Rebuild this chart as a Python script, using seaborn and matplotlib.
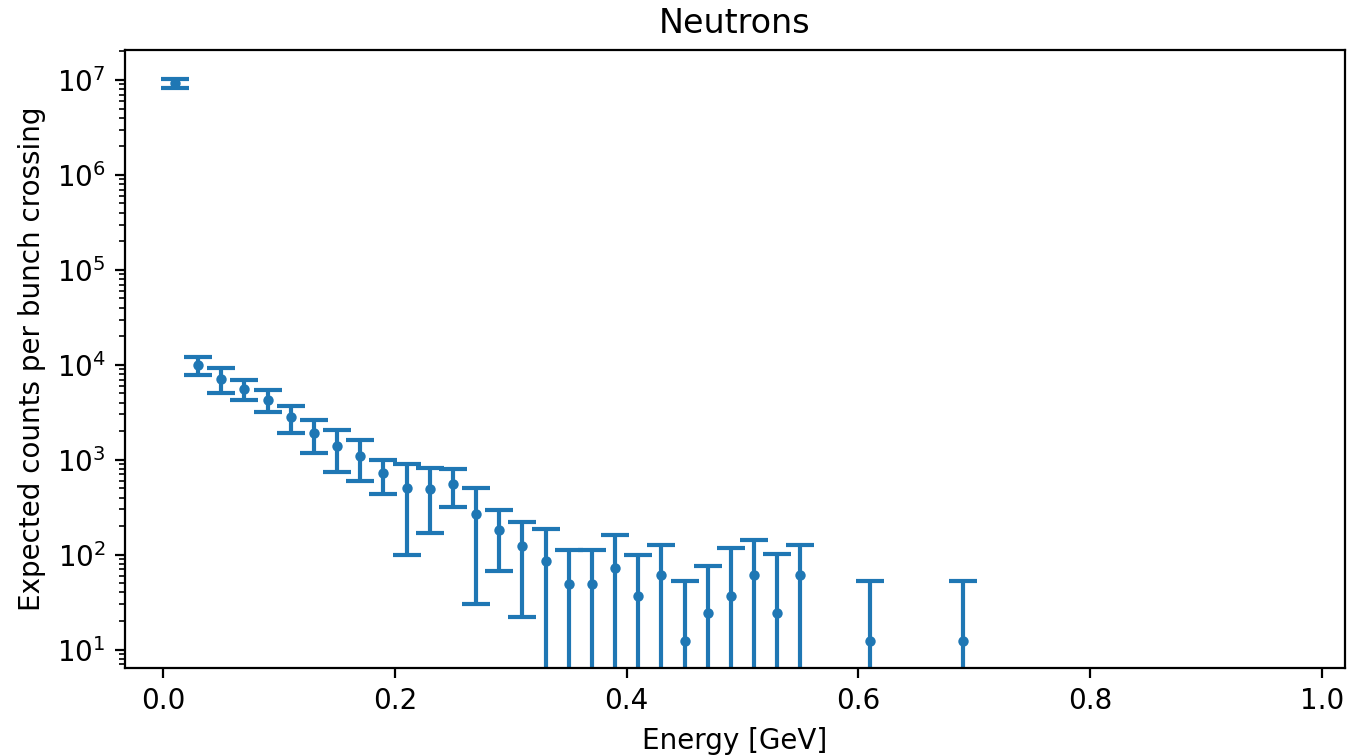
import numpy as np
import pandas as pd
import seaborn as sns
import matplotlib
matplotlib.use('Agg')
import matplotlib.pyplot as plt

# bin centres [GeV] and expected counts per bunch crossing
energy = [0.01, 0.03, 0.05, 0.07, 0.09, 0.11, 0.13, 0.15, 0.17, 0.19,
          0.21, 0.23, 0.25, 0.27, 0.29, 0.31, 0.33, 0.35, 0.37, 0.39,
          0.41, 0.43, 0.45, 0.47, 0.49, 0.51, 0.53, 0.55, 0.61, 0.69]
counts = [9.2e6, 1.0e4, 7.1e3, 5.6e3, 4.3e3, 2.8e3, 1.9e3, 1.4e3, 1.1e3, 720,
          500, 490, 555, 270, 183, 122, 85, 49, 49, 73,
          37, 61, 12.2, 24.5, 37, 61, 24.5, 61, 12.2, 12.2]
errors = [1.0e6, 2.1e3, 2.1e3, 1.3e3, 1.1e3, 900, 720, 660, 500, 280,
          400, 320, 235, 240, 115, 100, 100, 64, 64, 87,
          62, 65, 41, 51, 82, 83, 77, 65, 41, 41]

df = pd.DataFrame({'energy': energy, 'counts': counts, 'err': errors})

blue = '#1f77b4'

fig, ax = plt.subplots(figsize=(6.775, 3.775), dpi=200)
fig.subplots_adjust(left=0.0923, right=0.9926, bottom=0.1152, top=0.9338)

ax.errorbar(df['energy'], df['counts'], yerr=df['err'], fmt='none',
            ecolor=blue, capsize=5, elinewidth=1.5, capthick=1.5, zorder=2)
sns.scatterplot(data=df, x='energy', y='counts', ax=ax, color=blue,
                s=14, linewidth=0, zorder=3)

ax.set_yscale('log')
ax.set_ylim(6.4, 2.07e7)
ax.set_xlim(-0.033, 1.02)

ax.set_title('Neutrons', fontsize=12)
ax.set_xlabel('Energy [GeV]', fontsize=10)
ax.set_ylabel('Expected counts per bunch crossing', fontsize=10)

plt.savefig('out.png', dpi=200)
plt.close()
